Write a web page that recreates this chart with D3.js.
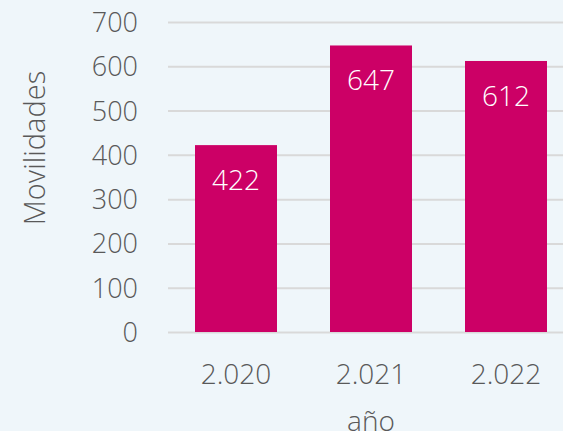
<!DOCTYPE html>
<html><head><meta charset="utf-8">
<script src="https://cdn.jsdelivr.net/npm/d3@7"></script>
<style>
html,body{margin:0;padding:0;background:#eff6fa;}
svg{display:block;}
text{font-family:"Open Sans",sans-serif;font-weight:300;}
</style></head>
<body>
<svg id="c" width="563" height="431"></svg>
<script>
const categories = ["2.020", "2.021", "2.022"];
const values = [422, 647, 612];
const yTicks = [0, 100, 200, 300, 400, 500, 600, 700];
const yTitle = "Movilidades";
const xTitle = "año";

const W = 563, H = 431;
const FS = 28;
const svg = d3.select("#c");
svg.append("rect").attr("width", W).attr("height", H).attr("fill", "#eff6fa");

const x = d3.scaleBand().domain(categories).range([168, 574])
  .paddingInner(0.3926).paddingOuter(0.2);
const y = d3.scaleLinear().domain([0, 700]).range([332, 22]);

// gridlines
svg.append("g").selectAll("line").data(yTicks).join("line")
  .attr("x1", 168).attr("x2", W)
  .attr("y1", d => y(d) + 0.5).attr("y2", d => y(d) + 0.5)
  .attr("stroke", "#d9d9d9").attr("stroke-width", 2);

// y axis labels
const yAxis = d3.axisLeft(y).tickValues(yTicks).tickSize(0).tickPadding(0);
const gy = svg.append("g").attr("transform", "translate(138,0)").call(yAxis);
gy.select(".domain").remove();
gy.selectAll("text").attr("font-size", 27).attr("fill", "#595959")
  .attr("font-family", "'Open Sans',sans-serif").attr("font-weight", 300).attr("dy", "0.35em");

// bars
svg.append("g").selectAll("rect").data(values).join("rect")
  .attr("x", (d, i) => x(categories[i]))
  .attr("width", x.bandwidth())
  .attr("y", d => y(d))
  .attr("height", d => y(0) - y(d))
  .attr("fill", "#cc0066");

// data labels
svg.append("g").selectAll("text").data(values).join("text")
  .attr("x", (d, i) => x(categories[i]) + x.bandwidth() / 2)
  .attr("y", d => y(d) + 35)
  .attr("dy", "0.35em")
  .attr("text-anchor", "middle")
  .attr("font-size", FS).attr("fill", "#ffffff")
  .text(d => d);

// x axis labels
const xAxis = d3.axisBottom(x).tickSize(0).tickPadding(0);
const gx = svg.append("g").attr("transform", "translate(0,374)").call(xAxis);
gx.select(".domain").remove();
gx.selectAll("text").attr("font-size", FS).attr("fill", "#595959")
  .attr("font-family", "'Open Sans',sans-serif").attr("font-weight", 300).attr("dy", "0.35em");

// titles
svg.append("text").attr("x", 371).attr("y", 421).attr("dy", "0.35em")
  .attr("text-anchor", "middle").attr("font-size", FS).attr("fill", "#595959").text(xTitle);
svg.append("text").attr("transform", "translate(35,148) rotate(-90)").attr("dy", "0.35em")
  .attr("text-anchor", "middle").attr("font-size", FS + 1).attr("fill", "#595959").text(yTitle);
</script>
</body></html>
